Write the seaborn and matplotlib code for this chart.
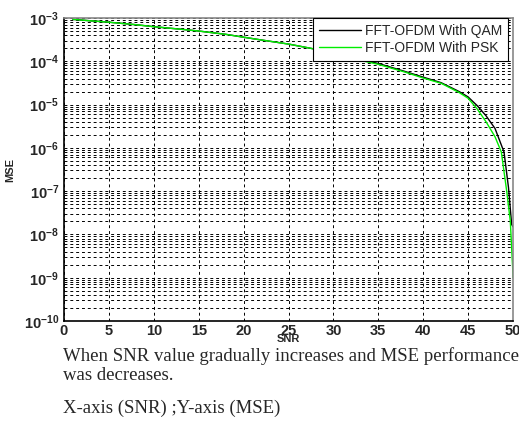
import numpy as np
import pandas as pd
import matplotlib
matplotlib.use("Agg")
import matplotlib.pyplot as plt
import seaborn as sbr
from matplotlib.ticker import LogLocator, NullFormatter

# data
snr_qam = [1, 3, 5, 8, 10, 13, 15, 18, 20, 22, 25, 28, 30, 33, 35, 38, 40, 42, 44, 45, 46, 47, 48, 49, 49.5, 49.85, 50]
mse_qam = [9.3e-4, 8.6e-4, 8.0e-4, 7.0e-4, 6.3e-4, 5.5e-4, 5.0e-4, 4.2e-4, 3.6e-4, 3.1e-4, 2.5e-4, 1.9e-4,
           1.5e-4, 1.1e-4, 8.9e-5, 5.8e-5, 4.3e-5, 3.2e-5, 2.0e-5, 1.5e-5, 9.5e-6, 5.5e-6, 2.8e-6, 8e-7,
           1.2e-7, 1.7e-8, 1.5e-8]

snr_psk = [1, 3, 5, 8, 10, 13, 15, 18, 20, 22, 25, 28, 30, 33, 35, 38, 40, 42, 44, 45, 46, 47, 48, 48.7, 49.3, 49.7, 50, 50]
mse_psk = [9.3e-4, 8.6e-4, 8.0e-4, 7.0e-4, 6.3e-4, 5.5e-4, 5.0e-4, 4.2e-4, 3.6e-4, 3.1e-4, 2.5e-4, 1.9e-4,
           1.5e-4, 1.05e-4, 8.5e-5, 5.6e-5, 4.1e-5, 3.1e-5, 1.9e-5, 1.4e-5, 8e-6, 4e-6, 1.8e-6, 8e-7,
           1e-7, 2e-8, 1.2e-9, 1e-9]

series_names = ["FFT-OFDM With QAM", "FFT-OFDM With PSK"]
series_colors = ["black", "#00ee00"]

caption_lines = ["When SNR value gradually increases and MSE performance",
                 "was decreases.",
                 "X-axis (SNR) ;Y-axis (MSE)"]

df = pd.concat([
    pd.DataFrame({"SNR": snr_qam, "MSE": mse_qam, "curve": series_names[0]}),
    pd.DataFrame({"SNR": snr_psk, "MSE": mse_psk, "curve": series_names[1]}),
])

sbr.set_style("white")
plt.rcParams['font.family'] = ['Liberation Sans', 'DejaVu Sans']
plt.rcParams['mathtext.fontset'] = 'custom'
plt.rcParams['mathtext.bf'] = 'Liberation Sans:bold'
plt.rcParams['mathtext.rm'] = 'Liberation Sans:bold'

fig = plt.figure(figsize=(5.19, 4.24), dpi=100)
ax = fig.add_axes([64/519, 1 - 321/424, 449/519, 303/424])

sbr.lineplot(data=df, x="SNR", y="MSE", hue="curve", palette=series_colors,
             estimator=None, sort=False, linewidth=1.0, ax=ax)

ax.set_yscale("log")
ax.set_xlim(0, 50)
ax.set_ylim(1e-10, 1e-3)

# MATLAB-style grid
ax.yaxis.set_minor_locator(LogLocator(base=10, subs=np.arange(2, 10), numticks=100))
ax.yaxis.set_minor_formatter(NullFormatter())
ytick_vals = [10.0 ** e for e in range(-10, -2)]
ax.set_yticks(ytick_vals)
ax.set_yticklabels([r"$\mathbf{10^{%d}}$" % e for e in range(-10, -2)], fontsize=10.5)
ax.set_xticks(range(0, 51, 5))
ax.set_xticklabels([str(v) for v in range(0, 51, 5)], fontsize=10.5, fontweight="bold")

ax.grid(True, which="major", axis="both", color="black", linestyle=(0, (3, 3)), linewidth=0.7)
ax.grid(True, which="minor", axis="y", color="black", linestyle=(0, (3, 3)), linewidth=0.7)
ax.set_axisbelow(True)

ax.tick_params(axis="both", which="both", direction="in", length=3, width=0.8)
ax.tick_params(axis="y", which="minor", length=0)
ax.tick_params(axis="x", pad=2)

for side in ["left", "bottom"]:
    ax.spines[side].set_color("black")
    ax.spines[side].set_linewidth(1.2)
for side in ["top", "right"]:
    ax.spines[side].set_color("#888888")
    ax.spines[side].set_linewidth(1.2)

ax.set_xlabel("SNR", fontsize=8, fontweight="bold", labelpad=-3)
ax.set_ylabel("MSE", fontsize=8, fontweight="bold")
ax.yaxis.set_label_coords(-0.109, 0.5)

leg = ax.legend(loc="upper right", fontsize=10, frameon=True, fancybox=False, framealpha=1,
                handlelength=3.0, handletextpad=0.3, borderpad=0.4, labelspacing=0.25,
                borderaxespad=0.0, bbox_to_anchor=(0.988, 1.0))
leg.get_frame().set_edgecolor("black")
leg.get_frame().set_linewidth(0.8)

# caption text under the chart
for txt, ypix in zip(caption_lines, [356, 376, 408]):
    fig.text(63/519, 1 - ypix/424, txt, fontsize=13.5, family="Liberation Serif", va="center")

plt.savefig("out.png", dpi=100)
plt.close()
